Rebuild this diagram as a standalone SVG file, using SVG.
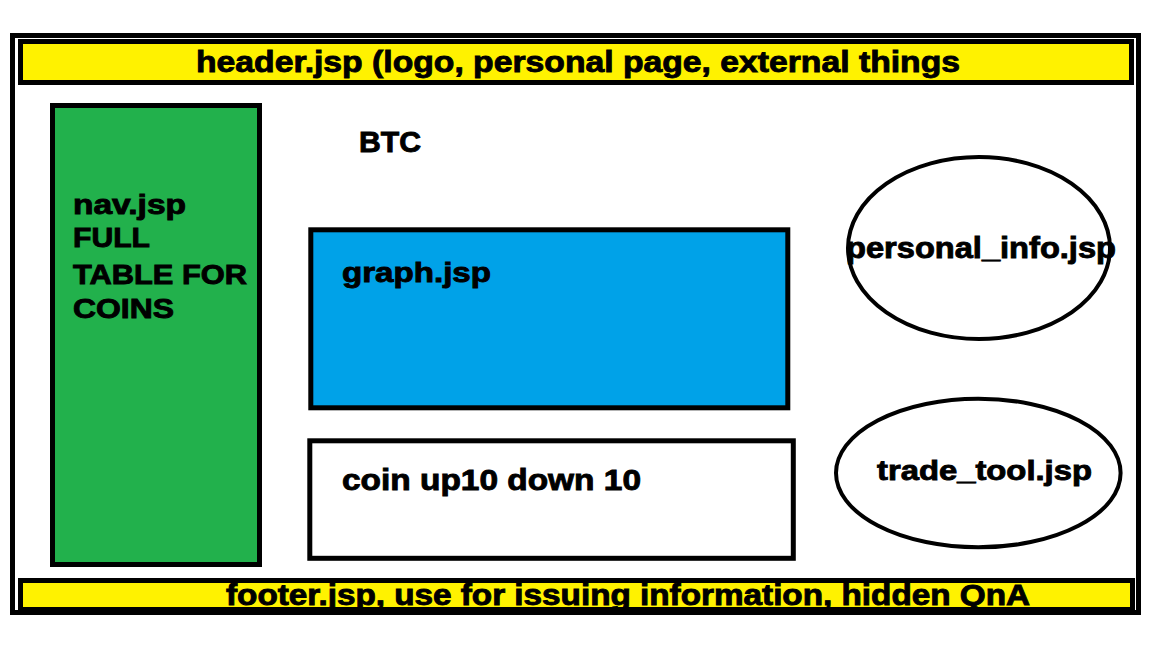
<svg xmlns="http://www.w3.org/2000/svg" width="1152" height="648" viewBox="0 0 1152 648">
<style>
.t{font-family:"Liberation Sans",Arial,sans-serif;font-weight:bold;fill:#000;stroke:#000;stroke-width:0.9}
.box{stroke:#000;stroke-width:5}
.oval{fill:none;stroke:#000;stroke-width:4}
</style>
<rect width="1152" height="648" fill="#fff"/>
<g id="frame">
<rect x="12.5" y="35.5" width="1126" height="577" fill="#fff" class="box"/>
</g>
<g id="header">
<rect x="20.5" y="41.5" width="1111" height="41" fill="#FFF200" class="box"/>
<text class="t" x="196" y="72" font-size="30" textLength="764" lengthAdjust="spacingAndGlyphs">header.jsp (logo, personal page, external things</text>
</g>
<g id="nav">
<rect x="52.5" y="105.5" width="207" height="459" fill="#22B14C" class="box"/>
<text class="t" x="73" y="214" font-size="27" textLength="113" lengthAdjust="spacingAndGlyphs">nav.jsp</text>
<text class="t" x="73" y="247" font-size="27" textLength="77" lengthAdjust="spacingAndGlyphs">FULL</text>
<text class="t" x="73" y="284" font-size="27" textLength="174" lengthAdjust="spacingAndGlyphs">TABLE FOR</text>
<text class="t" x="73" y="318" font-size="27" textLength="101" lengthAdjust="spacingAndGlyphs">COINS</text>
</g>
<g id="btc">
<text class="t" x="359" y="152" font-size="29" textLength="62" lengthAdjust="spacingAndGlyphs">BTC</text>
</g>
<g id="graph">
<rect x="310.8" y="229.8" width="477" height="178" fill="#00A2E8" class="box"/>
<text class="t" x="342" y="282" font-size="28" textLength="149" lengthAdjust="spacingAndGlyphs">graph.jsp</text>
</g>
<g id="coin">
<rect x="309.8" y="440.8" width="483.5" height="117.5" fill="#fff" class="box"/>
<text class="t" x="342" y="490" font-size="29" textLength="299" lengthAdjust="spacingAndGlyphs">coin up10 down 10</text>
</g>
<g id="personal_info">
<ellipse cx="979" cy="248" rx="131" ry="91" class="oval"/>
<text class="t" x="846" y="258" font-size="29" textLength="270" lengthAdjust="spacingAndGlyphs">personal_info.jsp</text>
</g>
<g id="trade_tool">
<ellipse cx="978.3" cy="473" rx="142.3" ry="74.3" class="oval"/>
<text class="t" x="877" y="480" font-size="28" textLength="215" lengthAdjust="spacingAndGlyphs">trade_tool.jsp</text>
</g>
<g id="footer">
<rect x="20.5" y="580.5" width="1112" height="29" fill="#FFF200"/>
<text class="t" x="226" y="605" font-size="29" textLength="804" lengthAdjust="spacingAndGlyphs">footer.jsp, use for issuing information, hidden QnA</text>
<rect x="20.5" y="580.5" width="1112" height="29" fill="none" class="box"/>
</g>
<g id="connectors"/>
</svg>
